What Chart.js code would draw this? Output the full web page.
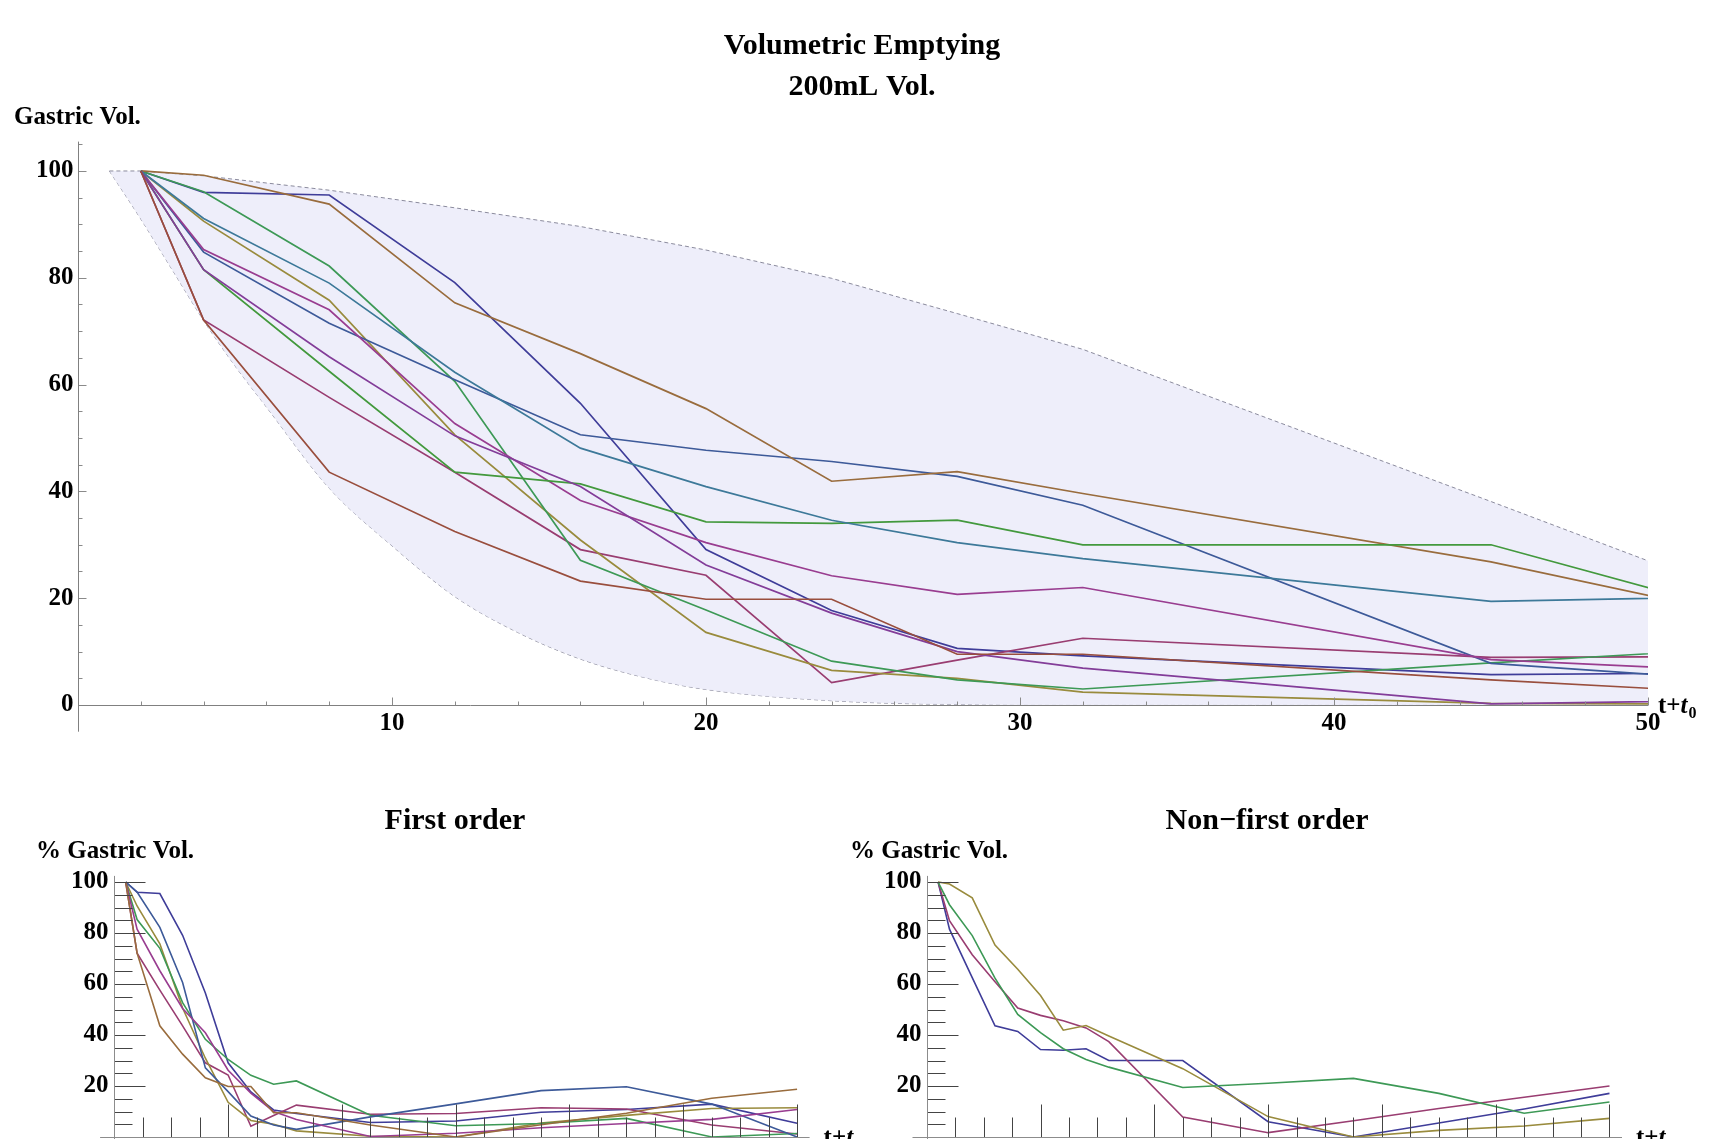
<!DOCTYPE html>
<html>
<head>
<meta charset="utf-8">
<title>Volumetric Emptying</title>
<script src="https://cdn.jsdelivr.net/npm/chart.js@4.4.1/dist/chart.umd.min.js"></script>
<style>
  html, body { margin: 0; padding: 0; background: #fff; width: 1713px; height: 1139px; overflow: hidden; }
  canvas { position: absolute; }
  #mainChart { left: 0; top: 0; }
  #firstChart { left: 0; top: 770px; }
  #nonFirstChart { left: 830px; top: 770px; }
</style>
</head>
<body>
<canvas id="mainChart" width="1713" height="760"></canvas>
<canvas id="firstChart" width="880" height="460"></canvas>
<canvas id="nonFirstChart" width="883" height="460"></canvas>
<script>
// sample times, t + t0 (min)
const times = [2, 4, 8, 12, 16, 20, 24, 28, 32, 45, 60, 75, 90, 105, 120];

// % gastric volume, one array per subject
const subj1  = [100, 96.0, 95.5, 79.1, 56.5, 29.1, 17.7, 10.6, 9.2, 5.7, 6.3, 9.7, 10.8, 12.9, 5.4];
const subj2  = [100, 72.1, 57.6, 43.6, 29.1, 24.3, 4.2, 8.4, 12.5, 8.9, 9.2, 11.5, 11.0, 4.7, 1.2];
const subj3  = [100, 90.6, 75.8, 50.6, 30.9, 13.6, 6.5, 5.0, 2.4, 0.3, 0.0, 5.5, 8.5, 11.2, 11.5];
const subj4  = [100, 96.1, 82.2, 60.6, 27.1, 17.8, 8.2, 4.7, 3.0, 7.9, 13.0, 18.2, 19.7, 12.9, 0.0];
const subj5  = [100, 84.8, 71.5, 60.9, 50.6, 47.7, 45.6, 42.8, 37.4, 7.8, 1.7, 6.4, 11.2, 15.6, 20.0];
const subj6  = [100, 85.3, 74.0, 52.7, 38.3, 30.4, 24.2, 20.7, 22.0, 8.5, 4.4, 5.3, 7.3, 0.0, 1.4];
const subj7  = [100, 99.2, 93.8, 75.3, 65.8, 55.5, 41.9, 43.7, 39.6, 26.8, 8.0, 0.0, 2.6, 4.3, 7.3];
const subj8  = [100, 81.5, 62.5, 43.6, 41.4, 34.3, 34.0, 34.6, 30.0, 30.0, 6.0, 0.0, 5.5, 11.0, 17.1];
const subj9  = [100, 91.1, 79.0, 62.3, 48.1, 40.9, 34.6, 30.4, 27.4, 19.4, 21.1, 23.0, 17.1, 9.3, 13.7];
const subj10 = [100, 81.5, 65.2, 50.4, 40.9, 26.2, 17.2, 10.0, 6.9, 0.2, 1.5, 3.6, 5.3, 6.9, 10.8];
const subj11 = [100, 72.1, 43.6, 32.5, 23.2, 19.8, 19.8, 9.5, 9.5, 4.7, 0.0, 4.8, 9.3, 15.2, 18.7];

// shaded band in the top plot
const bandUpperT = [1, 2, 4, 8, 12, 16, 20, 24, 28, 32, 45, 50];
const bandUpper  = [100, 100, 99.1, 96.4, 93.1, 89.6, 85.2, 79.9, 73.3, 66.6, 38.1, 27.0];
const bandLowerT = [1, 2, 3, 4, 5, 6, 8, 10, 12, 14, 16, 18, 20, 24, 28, 32, 40, 50];
const bandLower  = [100, 91.0, 81.5, 72.0, 63.5, 55.8, 40.6, 29.8, 20.3, 13.6, 8.6, 5.2, 2.9, 0.8, 0.1, 0, 0, 0];

const allSubjects   = [subj1, subj2, subj3, subj4, subj5, subj6, subj7, subj8, subj9, subj10, subj11];
const firstOrder    = [subj1, subj2, subj3, subj6, subj4, subj10, subj11];
const nonFirstOrder = [subj8, subj5, subj7, subj9];

// tick labels
const mainXLabels = [10, 20, 30, 40, 50];
const mainYLabels = [0, 20, 40, 60, 80, 100];
const smallYLabels = [20, 40, 60, 80, 100];

// mathematica-ish default plot colours
const mmaColors = ['#3f3d99', '#993d71', '#998b3d', '#3d9956', '#3d5a99', '#993d90',
                   '#996c3d', '#43993d', '#3d7999', '#833d99', '#994e3d'];

const SERIF = '"Liberation Serif", "Times New Roman", serif';

function pts(xs, ys) {
    return xs.map((t, i) => ({ x: t, y: ys[i] }));
}

function drawTimeLabel(ctx, x, y) {
    ctx.textAlign = 'left';
    ctx.textBaseline = 'alphabetic';
    ctx.font = 'bold 25px ' + SERIF;
    ctx.fillText('t+', x, y);
    let w = ctx.measureText('t+').width;
    ctx.font = 'italic bold 25px ' + SERIF;
    ctx.fillText('t', x + w, y);
    w += ctx.measureText('t').width;
    ctx.font = 'bold 16px ' + SERIF;
    ctx.fillText('0', x + w + 1, y + 5);
}

// axes through the origin, inward ticks, labels and titles
const mmaAxes = {
    id: 'mmaAxes',
    afterDatasetsDraw(chart, args, o) {
        const ctx = chart.ctx;
        const xs = chart.scales.x, ys = chart.scales.y;
        const ox = Math.round(xs.getPixelForValue(0)) + 0.5;
        const oy = Math.round(ys.getPixelForValue(0)) + 0.5;
        ctx.save();
        ctx.lineWidth = 1;
        ctx.strokeStyle = o.tickColor;
        o.xTicks.forEach(tk => {
            const px = Math.round(xs.getPixelForValue(tk.v)) + 0.5;
            ctx.beginPath();
            ctx.moveTo(px, oy);
            ctx.lineTo(px, oy - tk.len);
            ctx.stroke();
        });
        o.yTicks.forEach(tk => {
            const py = Math.round(ys.getPixelForValue(tk.v)) + 0.5;
            ctx.beginPath();
            ctx.moveTo(ox, py);
            ctx.lineTo(ox + tk.len, py);
            ctx.stroke();
        });
        ctx.strokeStyle = o.axisColor;
        ctx.beginPath();
        ctx.moveTo(ox, ys.top);
        ctx.lineTo(ox, ys.bottom);
        ctx.moveTo(xs.left, oy);
        ctx.lineTo(xs.right, oy);
        ctx.stroke();

        ctx.fillStyle = '#000';
        ctx.font = 'bold 25px ' + SERIF;
        ctx.textAlign = 'right';
        ctx.textBaseline = 'middle';
        o.yLabels.forEach(v => ctx.fillText(String(v), ox - o.yGap, ys.getPixelForValue(v)));
        ctx.textAlign = 'center';
        o.xLabels.forEach(v => ctx.fillText(String(v), xs.getPixelForValue(v), oy + 18));

        drawTimeLabel(ctx, xs.right + o.tGap, oy + 7);

        o.texts.forEach(t => {
            ctx.font = 'bold ' + t.size + 'px ' + SERIF;
            ctx.textAlign = t.align;
            ctx.textBaseline = 'middle';
            ctx.fillText(t.text, t.x, t.y);
        });
        ctx.restore();
    }
};

function tickList(from, to, step, majorEvery, majorLen, minorLen) {
    const out = [];
    for (let v = from; v <= to; v += step) {
        out.push({ v: v, len: v % majorEvery === 0 ? majorLen : minorLen });
    }
    return out;
}

function lineSet(data, color, width, order) {
    return {
        data: pts(times, data),
        borderColor: color,
        borderWidth: width,
        pointRadius: 0,
        fill: false,
        tension: 0,
        clip: 0,
        order: order
    };
}

// ---- top plot
const mainSets = allSubjects.map((s, i) => lineSet(s, mmaColors[i], 1.7, 10 - i));
mainSets.push({
    data: pts(bandUpperT, bandUpper),
    borderColor: 'rgba(120,120,140,0.85)',
    borderWidth: 1,
    borderDash: [4, 3],
    backgroundColor: 'rgba(236,236,250,0.9)',
    pointRadius: 0,
    fill: '+1',
    tension: 0,
    order: 20
});
mainSets.push({
    data: pts(bandLowerT, bandLower),
    borderColor: 'rgba(120,120,140,0.85)',
    borderWidth: 1,
    borderDash: [4, 3],
    pointRadius: 0,
    fill: false,
    tension: 0.4,
    cubicInterpolationMode: 'monotone',
    order: 21
});

new Chart(document.getElementById('mainChart'), {
    type: 'line',
    data: { datasets: mainSets },
    options: {
        responsive: false,
        animation: false,
        devicePixelRatio: 1,
        events: [],
        layout: { padding: { left: 78, right: 65, top: 141.6, bottom: 28.3 } },
        scales: {
            x: { type: 'linear', min: 0, max: 50, display: false },
            y: { type: 'linear', min: -5, max: 105.5, display: false }
        },
        plugins: {
            legend: { display: false },
            tooltip: { enabled: false },
            mmaAxes: {
                axisColor: '#808080',
                tickColor: '#8a8a8a',
                xTicks: tickList(2, 50, 2, 10, 8, 4),
                yTicks: tickList(5, 105, 5, 20, 8, 4),
                xLabels: mainXLabels,
                yLabels: mainYLabels,
                yGap: 5,
                tGap: 10,
                texts: [
                    { text: 'Volumetric Emptying', x: 862, y: 46, size: 30, align: 'center' },
                    { text: '200mL Vol.', x: 862, y: 87, size: 30, align: 'center' },
                    { text: 'Gastric Vol.', x: 14, y: 118, size: 25, align: 'left' }
                ]
            }
        }
    },
    plugins: [mmaAxes]
});

// ---- lower plots
function smallChart(id, group, padLeft, padRight, title, titleX, labelX) {
    const sets = group.map((s, i) => lineSet(s, mmaColors[i], 1.6, 10 - i));
    return new Chart(document.getElementById(id), {
        type: 'line',
        data: { datasets: sets },
        options: {
            responsive: false,
            animation: false,
            devicePixelRatio: 1,
            events: [],
            layout: { padding: { left: padLeft, right: padRight, top: 105.9, bottom: 67.5 } },
            scales: {
                x: { type: 'linear', min: -2.5, max: 122.2, display: false },
                y: { type: 'linear', min: -10, max: 102.4, display: false }
            },
            plugins: {
                legend: { display: false },
                tooltip: { enabled: false },
                mmaAxes: {
                    axisColor: '#8c8c8c',
                    tickColor: '#444',
                    xTicks: tickList(5, 120, 5, 20, 33, 20),
                    yTicks: tickList(5, 100, 5, 20, 31, 18),
                    xLabels: [],
                    yLabels: smallYLabels,
                    yGap: 6,
                    tGap: 14,
                    texts: [
                        { text: title, x: titleX, y: 51, size: 30, align: 'center' },
                        { text: '% Gastric Vol.', x: labelX, y: 82, size: 25, align: 'left' }
                    ]
                }
            }
        },
        plugins: [mmaAxes]
    });
}

smallChart('firstChart', firstOrder, 100.1, 70.4, 'First order', 455, 36);
smallChart('nonFirstChart', nonFirstOrder, 82.5, 91, 'Non\u2212first order', 437, 20);
</script>
</body>
</html>
